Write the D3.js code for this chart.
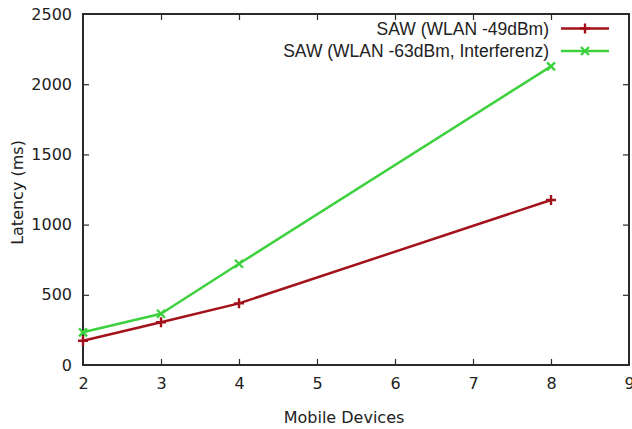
<!DOCTYPE html>
<html>
<head>
<meta charset="utf-8">
<script src="https://cdn.jsdelivr.net/npm/d3@7"></script>
<style>
  html, body { margin: 0; padding: 0; background: #fff; }
  svg { display: block; }
  .tick text { font-family: "DejaVu Sans", Verdana, sans-serif; }
</style>
</head>
<body>
<svg id="chart" width="632" height="429"></svg>
<script>
// Mobile devices on the x axis
const devices = [2, 3, 4, 8];
// Latency in ms per series
const sawStrong = [173, 304, 439, 1175];
const sawInterf = [233, 365, 721, 2127];
const seriesNames = ["SAW (WLAN -49dBm)", "SAW (WLAN -63dBm, Interferenz)"];
const xTicks = [2, 3, 4, 5, 6, 7, 8, 9];
const yTicks = [0, 500, 1000, 1500, 2000, 2500];

const svg = d3.select("#chart");
const W = 632, H = 429;
const m = { left: 83, right: 3, top: 14, bottom: 64 };
const pw = W - m.left - m.right, ph = H - m.top - m.bottom;

const x = d3.scaleLinear().domain([2, 9]).range([m.left, m.left + pw]);
const y = d3.scaleLinear().domain([0, 2500]).range([m.top + ph, m.top]);

const frame = "#2a2a2a";
const tickLen = 6;
const fmt = d3.format("d");

// Axes (ticks pointing inward, gnuplot style)
const gx = svg.append("g").attr("transform", `translate(0,${m.top + ph})`)
  .call(d3.axisBottom(x).tickValues(xTicks).tickFormat(fmt).tickSizeInner(-tickLen).tickSizeOuter(0).tickPadding(13));
const gy = svg.append("g").attr("transform", `translate(${m.left},0)`)
  .call(d3.axisLeft(y).tickValues(yTicks).tickFormat(fmt).tickSizeInner(-tickLen).tickSizeOuter(0).tickPadding(11));
const gxt = svg.append("g").attr("transform", `translate(0,${m.top})`)
  .call(d3.axisTop(x).tickValues(xTicks).tickSizeInner(-tickLen).tickSizeOuter(0).tickFormat(""));
const gyr = svg.append("g").attr("transform", `translate(${m.left + pw},0)`)
  .call(d3.axisRight(y).tickValues(yTicks).tickSizeInner(-tickLen).tickSizeOuter(0).tickFormat(""));

[gx, gy, gxt, gyr].forEach(g => {
  g.select(".domain").remove();
  g.selectAll(".tick line").attr("stroke", frame).attr("stroke-width", 1.2);
  g.selectAll(".tick text").attr("fill", "#222").attr("font-size", 16);
});
// hide ticks at the corners
gx.selectAll(".tick line").filter(d => d === 2 || d === 9).remove();
gxt.selectAll(".tick line").filter(d => d === 2 || d === 9).remove();
gy.selectAll(".tick line").filter(d => d === 0 || d === 2500).remove();
gyr.selectAll(".tick line").filter(d => d === 0 || d === 2500).remove();

// Plot frame
svg.append("rect")
  .attr("x", m.left).attr("y", m.top).attr("width", pw).attr("height", ph)
  .attr("fill", "none").attr("stroke", frame).attr("stroke-width", 2);

// Axis titles
svg.append("text")
  .attr("x", 344).attr("y", 423)
  .attr("text-anchor", "middle")
  .attr("font-family", "DejaVu Sans, Verdana, sans-serif")
  .attr("font-size", 16).attr("fill", "#222")
  .text("Mobile Devices");
svg.append("text")
  .attr("transform", `translate(23,${m.top + ph / 2 + 3}) rotate(-90)`)
  .attr("text-anchor", "middle")
  .attr("font-family", "DejaVu Sans, Verdana, sans-serif")
  .attr("font-size", 16).attr("fill", "#222")
  .text("Latency (ms)");

const series = [
  { name: seriesNames[0], values: sawStrong, color: "#a3121a", marker: "plus" },
  { name: seriesNames[1], values: sawInterf, color: "#3ed13e", marker: "cross" }
];

const line = d3.line().x(d => x(d[0])).y(d => y(d[1]));

function marker(g, cx, cy, type, color) {
  const s = 5;
  const p = type === "plus"
    ? `M${cx - s},${cy}L${cx + s},${cy}M${cx},${cy - s}L${cx},${cy + s}`
    : `M${cx - s * 0.8},${cy - s * 0.8}L${cx + s * 0.8},${cy + s * 0.8}M${cx - s * 0.8},${cy + s * 0.8}L${cx + s * 0.8},${cy - s * 0.8}`;
  g.append("path").attr("d", p).attr("stroke", color).attr("stroke-width", 2.4).attr("fill", "none");
}

// Draw the interference series first so the red line sits on top
[series[1], series[0]].forEach(s => {
  const pts = devices.map((d, i) => [d, s.values[i]]);
  const g = svg.append("g");
  g.append("path").datum(pts).attr("d", line)
    .attr("fill", "none").attr("stroke", s.color).attr("stroke-width", 2.5)
    .attr("stroke-linejoin", "round");
  pts.forEach(p => marker(g, x(p[0]), y(p[1]), s.marker, s.color));
});

// Legend
const legRowsY = [28.5, 51];
series.forEach((s, i) => {
  const ly = legRowsY[i];
  svg.append("text")
    .attr("x", 549).attr("y", ly).attr("dy", "0.35em")
    .attr("text-anchor", "end")
    .attr("font-family", "Liberation Sans, Arial, sans-serif")
    .attr("font-size", 17.5).attr("fill", "#222")
    .text(s.name);
  svg.append("line").attr("x1", 561).attr("x2", 609).attr("y1", ly).attr("y2", ly)
    .attr("stroke", s.color).attr("stroke-width", 2.5);
  marker(svg, 585, ly, s.marker, s.color);
});
</script>
</body>
</html>
